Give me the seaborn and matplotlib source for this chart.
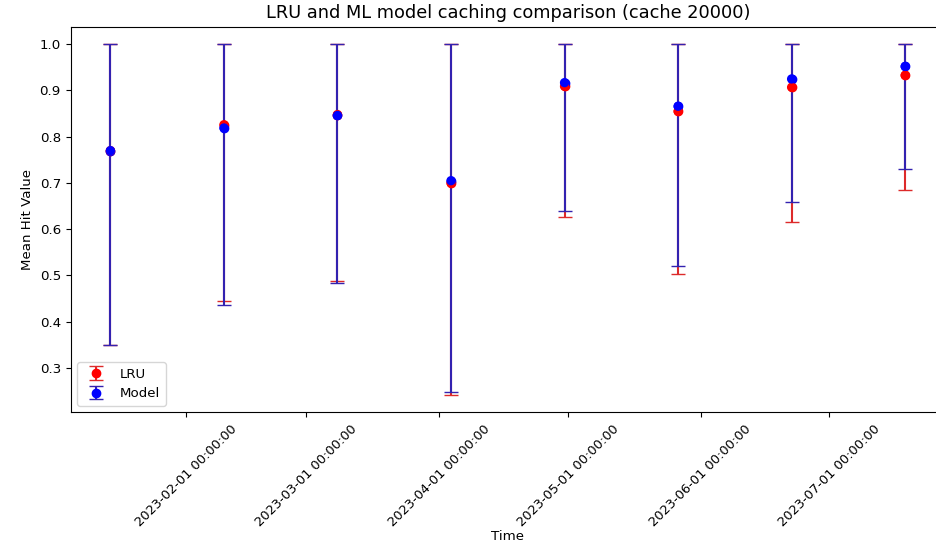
import matplotlib
matplotlib.use("Agg")
import matplotlib.pyplot as plt
import matplotlib.dates as mdates
import seaborn as sns
import pandas as pd

# ---- data ----
dates = ["2023-01-14 06:00", "2023-02-09 18:00", "2023-03-08 06:00", "2023-04-03 18:00",
         "2023-04-30 06:00", "2023-05-26 18:00", "2023-06-22 06:00", "2023-07-18 18:00"]
lru_mean = [0.770, 0.826, 0.848, 0.700, 0.909, 0.855, 0.907, 0.933]
lru_min = [0.350, 0.444, 0.487, 0.242, 0.627, 0.504, 0.616, 0.685]
lru_max = [1.0, 1.0, 1.0, 1.0, 1.0, 1.0, 1.0, 1.0]
model_mean = [0.770, 0.819, 0.846, 0.705, 0.917, 0.866, 0.925, 0.952]
model_min = [0.350, 0.436, 0.483, 0.249, 0.639, 0.521, 0.658, 0.730]
model_max = [1.0, 1.0, 1.0, 1.0, 1.0, 1.0, 1.0, 1.0]

title = "LRU and ML model caching comparison (cache 20000)"
xlabel = "Time"
ylabel = "Mean Hit Value"

x = pd.to_datetime(dates)
df = pd.DataFrame({"Time": list(x) * 2,
                   "mean": lru_mean + model_mean,
                   "series": ["LRU"] * len(x) + ["Model"] * len(x)})

sns.set_style("white")
plt.rcParams.update({
    "axes.edgecolor": "black", "axes.linewidth": 0.8,
    "xtick.bottom": True, "ytick.left": True,
    "xtick.color": "black", "ytick.color": "black",
    "text.color": "black", "axes.labelcolor": "black",
    "xtick.major.size": 3.5, "ytick.major.size": 3.5,
    "xtick.labelsize": 9.4, "ytick.labelsize": 9.6,
    "axes.labelsize": 9.6,
})
plt.rcParams["font.family"] = ["DejaVu Sans"]

fig = plt.figure(figsize=(9.36, 5.51), dpi=100)
ax = fig.add_axes([0.0755, 0.2517, 0.934, 0.6998])

def yerr(mean, lo, hi):
    return [[m - l for m, l in zip(mean, lo)], [h - m for m, h in zip(mean, hi)]]

ax.errorbar(x, lru_mean, yerr=yerr(lru_mean, lru_min, lru_max), fmt="o", color="red",
            ecolor="#dd2a2a", capsize=5, label="LRU")
ax.errorbar(x, model_mean, yerr=yerr(model_mean, model_min, model_max), fmt="o", color="blue",
            ecolor="#3322b0", capsize=5, label="Model")

sns.scatterplot(data=df, x="Time", y="mean", hue="series",
                palette={"LRU": "red", "Model": "blue"}, s=45, linewidth=0,
                legend=False, ax=ax, zorder=3)

ax.xaxis.set_major_locator(mdates.MonthLocator())
ax.xaxis.set_major_formatter(mdates.DateFormatter("%Y-%m-%d %H:%M:%S"))
plt.setp(ax.get_xticklabels(), rotation=45)
ax.spines["right"].set_visible(False)

ax.set_title(title, fontsize=12.8)
ax.set_xlabel(xlabel, labelpad=1)
ax.set_ylabel(ylabel)
ax.legend(loc="lower left", fontsize=9.6)

fig.savefig("out.png", dpi=100)
